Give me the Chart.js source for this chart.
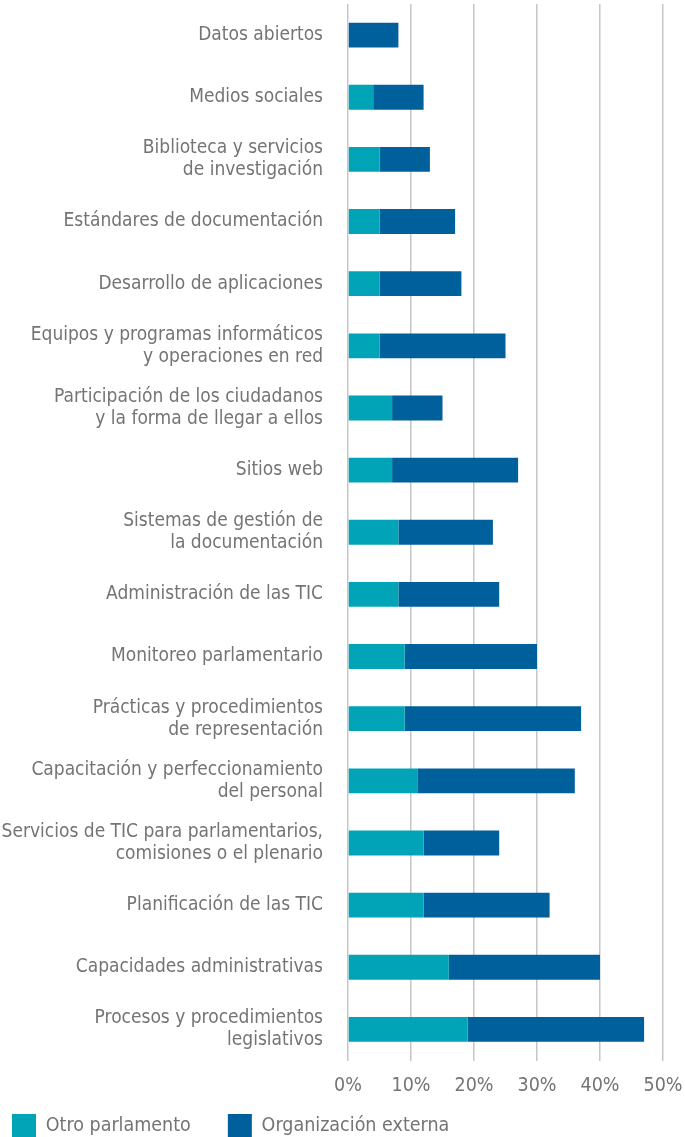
<!DOCTYPE html>
<html>
<head>
<meta charset="utf-8">
<script src="https://cdn.jsdelivr.net/npm/chart.js@4"></script>
<style>
  html, body { margin: 0; padding: 0; background: #fff; overflow: hidden; }
  #wrap { width: 685px; height: 1137px; }
</style>
</head>
<body>
<div id="wrap"><canvas id="chart"></canvas></div>
<script>
const categories = [
  "Datos abiertos",
  "Medios sociales",
  ["Biblioteca y servicios", "de investigación"],
  "Estándares de documentación",
  "Desarrollo de aplicaciones",
  ["Equipos y programas informáticos", "y operaciones en red"],
  ["Participación de los ciudadanos", "y la forma de llegar a ellos"],
  "Sitios web",
  ["Sistemas de gestión de", "la documentación"],
  "Administración de las TIC",
  "Monitoreo parlamentario",
  ["Prácticas y procedimientos", "de representación"],
  ["Capacitación y perfeccionamiento", "del personal"],
  ["Servicios de TIC para parlamentarios,", "comisiones o el plenario"],
  "Planificación de las TIC",
  "Capacidades administrativas",
  ["Procesos y procedimientos", "legislativos"]
];
const otroParlamento = [0, 4, 5, 5, 5, 5, 7, 7, 8, 8, 9, 9, 11, 12, 12, 16, 19];
const organizacionExterna = [8, 8, 8, 12, 13, 20, 8, 20, 15, 16, 21, 28, 25, 12, 20, 24, 28];
const xTicks = [0, 10, 20, 30, 40, 50];

const FONT = "'DejaVu Sans Condensed', 'Liberation Sans Narrow', sans-serif";
const gray = "#747474";

// move the legend box to where the original sits (bottom-left, partly cut off)
const legendPlace = {
  id: "legendPlace",
  afterLayout(chart) {
    const lg = chart.legend;
    const pad = lg.options.labels.padding;
    lg.left = 12 - pad;
    lg.right = 685;
    lg.top = 1114 - pad;
    lg.bottom = 1160;
    lg.width = lg.right - lg.left;
    lg.height = lg.bottom - lg.top;
  }
};

const ctx = document.getElementById("chart").getContext("2d");
const chart = new Chart(ctx, {
  type: "bar",
  data: {
    labels: categories,
    datasets: [
      {
        label: "Otro parlamento",
        data: otroParlamento,
        backgroundColor: "#00A4B6"
      },
      {
        label: "Organización externa",
        data: organizacionExterna,
        backgroundColor: "#00609B"
      }
    ]
  },
  plugins: [legendPlace],
  options: {
    indexAxis: "y",
    responsive: true,
    maintainAspectRatio: false,
    animation: false,
    datasets: { bar: { barPercentage: 0.4, categoryPercentage: 1 } },
    layout: { padding: { top: 4, right: 22, left: 0, bottom: 0 } },
    scales: {
      x: {
        stacked: true,
        min: 0,
        max: 50,
        afterBuildTicks: (s) => { s.ticks = xTicks.map(v => ({ value: v })); },
        afterFit: (s) => { s.height = 46.5; s.paddingLeft = 0; s.paddingRight = 0; },
        grid: { color: "#c6c6c6", lineWidth: 1.5, drawTicks: false },
        border: { display: false },
        ticks: {
          color: gray,
          padding: 13.5,
          font: { family: FONT, size: 19.5 },
          callback: (v) => v + "%"
        }
      },
      y: {
        stacked: true,
        afterFit: (s) => { s.width = 348; s.paddingTop = 0; s.paddingBottom = 0; },
        grid: { display: false, drawTicks: false },
        border: { display: false },
        ticks: {
          color: gray,
          padding: 25,
          font: { family: FONT, size: 19, lineHeight: 1.16 }
        }
      }
    },
    plugins: {
      tooltip: { enabled: false },
      legend: {
        position: "bottom",
        align: "start",
        maxHeight: 30,
        labels: {
          boxWidth: 24,
          boxHeight: 24,
          padding: 37,
          color: gray,
          font: { family: FONT, size: 19.5 }
        }
      }
    }
  }
});
</script>
</body>
</html>
